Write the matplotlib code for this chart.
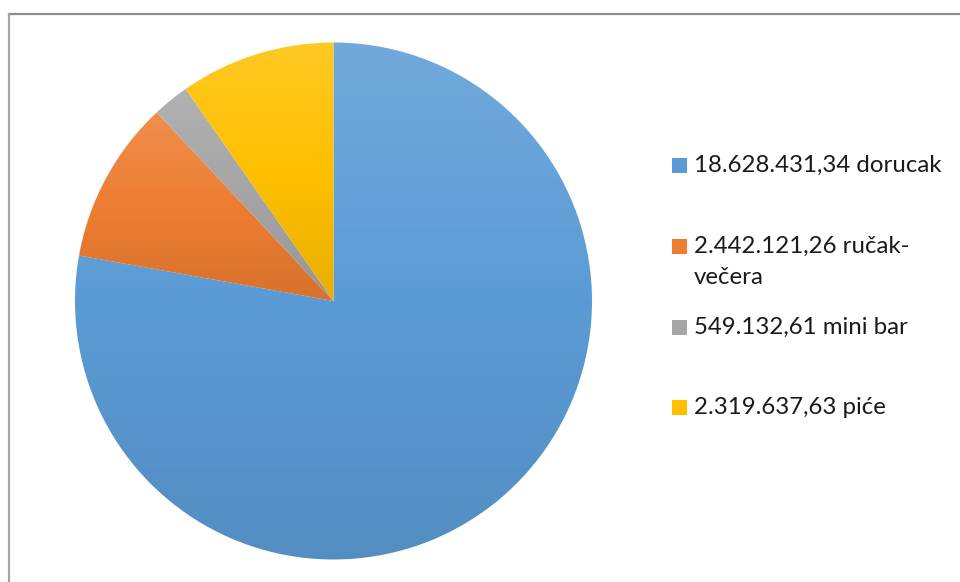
import numpy as np
import matplotlib
matplotlib.use("Agg")
import matplotlib.pyplot as plt
from matplotlib.patches import Rectangle
from matplotlib.colors import to_rgb
from matplotlib.lines import Line2D

categories = ["dorucak", "ručak-\nvečera", "mini bar", "piće"]
value_labels = ["18.628.431,34", "2.442.121,26", "549.132,61", "2.319.637,63"]
values = [18628431.34, 2442121.26, 549132.61, 2319637.63]
colors = ["#5B9BD5", "#ED7D31", "#A5A5A5", "#FFC000"]

W, H = 960, 582
fig = plt.figure(figsize=(W / 100, H / 100), dpi=100)
ax = fig.add_axes([0, 0, 1, 1])

cx, cy, R = 333.5, H - 301, 258.5
wedges, _ = ax.pie(values, colors=colors, startangle=90, counterclock=False,
                   center=(cx, cy), radius=R, frame=True,
                   wedgeprops=dict(linewidth=0))
ax.set_xlim(0, W)
ax.set_ylim(0, H)
ax.set_aspect("equal")
ax.axis("off")


def mix(c, t, f):
    c = np.array(to_rgb(c)); t = np.array(to_rgb(t))
    return c + (t - c) * f


def gradient_img(base, n=256):
    light = mix(base, "white", 0.14)
    dark = mix(base, "black", 0.09)
    base = np.array(to_rgb(base))
    t = np.linspace(0, 1, n)[:, None]
    top = light + (base - light) * np.clip(t * 2, 0, 1)
    bot = base + (dark - base) * np.clip(t * 2 - 1, 0, 1)
    img = np.where(t < 0.5, top, bot)
    return img[:, None, :]


for w, c in zip(wedges, colors):
    w.set_facecolor("none")
    pts = w.get_patch_transform().transform(w.get_path().vertices)
    x0, x1 = pts[:, 0].min(), pts[:, 0].max()
    y0, y1 = pts[:, 1].min(), pts[:, 1].max()
    im = ax.imshow(gradient_img(c), extent=(x0, x1, y0, y1), origin="upper",
                   aspect="auto", interpolation="bilinear", zorder=1)
    im.set_clip_path(w)

ax.set_xlim(0, W)
ax.set_ylim(0, H)

# border
ax.add_line(Line2D([8.5, W], [H - 13.5, H - 13.5], color="#8c8c8c", lw=1.6))
ax.add_line(Line2D([8.5, 8.5], [0, H - 13.5], color="#a6a6a6", lw=1.6))

# legend
font = ["Lato", "DejaVu Sans"]
label_y = [165, 262, 327, 407]
line_gap = 32
fs = 17.3
for i, (v, cat, c) in enumerate(zip(value_labels, categories, colors)):
    parts = (v + " " + cat).split("\n")
    ytop = label_y[i] if len(parts) == 1 else label_y[i] - line_gap / 2
    sq = 15
    ax.add_patch(Rectangle((672, H - ytop - sq / 2), sq, sq, facecolor=c,
                           edgecolor="none"))
    for k, p in enumerate(parts):
        ax.text(694, H - (ytop + k * line_gap), p, fontsize=fs, family=font,
                va="center", ha="left", color="#1a1a1a")

fig.savefig("out.png", dpi=100)
